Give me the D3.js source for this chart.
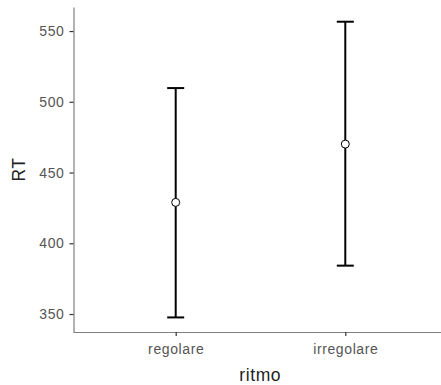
<!DOCTYPE html>
<html><head><meta charset="utf-8">
<script src="https://cdn.jsdelivr.net/npm/d3@7"></script>
<style>body{margin:0;background:#fff}svg{display:block}</style>
</head><body><div id="chart"></div>
<script>
const categories = ["regolare", "irregolare"];
const means = [428.9, 470.1];
const lower = [347.6, 384.2];
const upper = [509.7, 556.6];
const yTicks = [350, 400, 450, 500, 550];

(function () {
const W = 441, H = 385;
const mLeft = 73.5, mTop = 7, mBottom = 332;
const svg = d3.select("#chart").append("svg").attr("width", W).attr("height", H);

const y = d3.scaleLinear().domain([337.3, 567]).range([mBottom, mTop]);
const x = d3.scalePoint().domain(categories).range([175.7, 345.3]);

const font = "Liberation Sans, Arial, sans-serif";

// y axis
const gy = svg.append("g").attr("transform", `translate(${mLeft},0)`)
  .call(d3.axisLeft(y).tickValues(yTicks).tickSize(4).tickPadding(5).tickSizeOuter(0));
gy.select(".domain").attr("stroke", "#7f7f7f").attr("stroke-width", 1.2);
gy.selectAll(".tick line").attr("stroke", "#333").attr("stroke-width", 1.2);
gy.selectAll(".tick text").attr("fill", "#555").style("font-family", font).style("font-size", "14px").style("letter-spacing", "0.6px");

// x axis
const gx = svg.append("g").attr("transform", `translate(0,${mBottom})`)
  .call(d3.axisBottom(x).tickSize(4).tickPadding(8).tickSizeOuter(0));
gx.select(".domain").attr("d", `M${mLeft},0.5H${W}`).attr("stroke", "#7f7f7f").attr("stroke-width", 1.2);
gx.selectAll(".tick line").attr("stroke", "#333").attr("stroke-width", 1.2);
gx.selectAll(".tick text").attr("fill", "#555").style("font-family", font).style("font-size", "14px").style("letter-spacing", "0.6px");

// axis titles
svg.append("text").attr("x", (mLeft + W) / 2 + 3).attr("y", 381).attr("text-anchor", "middle")
  .style("font-family", font).style("font-size", "17.5px").style("letter-spacing", "0.6px").attr("fill", "#222").text("ritmo");
svg.append("text").attr("transform", `translate(25,${(mTop + mBottom) / 2}) rotate(-90)`).attr("text-anchor", "middle")
  .style("font-family", font).style("font-size", "17.5px").style("letter-spacing", "0.6px").attr("fill", "#222").text("RT");

// error bars
const data = categories.map((c, i) => ({c, m: means[i], lo: lower[i], hi: upper[i]}));
const cap = 8.5;
const g = svg.append("g").attr("stroke", "#000").attr("stroke-width", 2).attr("fill", "none");
data.forEach(d => {
  const cx = x(d.c);
  g.append("line").attr("x1", cx).attr("x2", cx).attr("y1", y(d.lo)).attr("y2", y(d.hi));
  g.append("line").attr("x1", cx - cap).attr("x2", cx + cap).attr("y1", y(d.lo)).attr("y2", y(d.lo));
  g.append("line").attr("x1", cx - cap).attr("x2", cx + cap).attr("y1", y(d.hi)).attr("y2", y(d.hi));
});
svg.append("g").selectAll("circle").data(data).join("circle")
  .attr("cx", d => x(d.c)).attr("cy", d => y(d.m)).attr("r", 4)
  .attr("fill", "#fff").attr("stroke", "#000").attr("stroke-width", 1);
})();
</script></body></html>
